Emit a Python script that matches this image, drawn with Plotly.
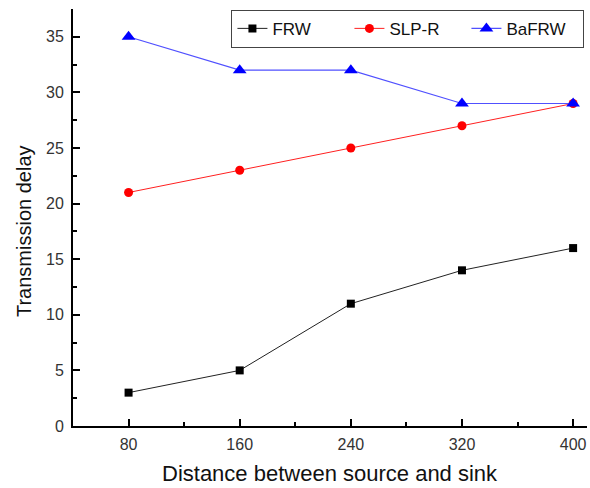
import plotly.graph_objects as go

distance = [80, 160, 240, 320, 400]
frw = [3, 5, 11, 14, 16]
slp_r = [21, 23, 25, 27, 29]
bafrw = [35, 32, 32, 29, 29]

x_title = "Distance between source and sink"
y_title = "Transmission delay"

fig = go.Figure()
fig.add_trace(go.Scatter(x=distance, y=frw, name="FRW", mode="lines+markers",
                         line=dict(color="#222", width=1),
                         marker=dict(symbol="square", size=8, color="black")))
fig.add_trace(go.Scatter(x=distance, y=slp_r, name="SLP-R", mode="lines+markers",
                         line=dict(color="#ff2020", width=1),
                         marker=dict(symbol="circle", size=9, color="red")))
fig.add_trace(go.Scatter(x=distance, y=bafrw, name="BaFRW", mode="lines+markers",
                         line=dict(color="#5050ff", width=1.2),
                         marker=dict(symbol="triangle-up", size=12, color="blue")))

axis_font = dict(family="Liberation Sans, Arial, sans-serif", size=16, color="#333")
fig.update_layout(
    width=590, height=488,
    margin=dict(l=73, r=3, t=9, b=62),
    paper_bgcolor="white", plot_bgcolor="white",
    font=dict(family="Liberation Sans, Arial, sans-serif", color="black"),
    showlegend=True,
    legend=dict(orientation="h", x=0.995, xanchor="right", y=0.998, yanchor="top",
                bordercolor="#444", borderwidth=1, bgcolor="white",
                font=dict(size=17, color="#111"),
                entrywidth=72, entrywidthmode="pixels",
                tracegroupgap=0),
    xaxis=dict(range=[40, 410], tickvals=distance, ticktext=[str(d) for d in distance],
               ticks="inside", ticklen=7, tickwidth=1.5, tickcolor="black",
               minor=dict(tickvals=[120, 200, 280, 360], ticks="inside", ticklen=4, tickcolor="black", tickwidth=1.5),
               showline=True, linecolor="black", linewidth=2, showgrid=False, zeroline=False,
               tickfont=axis_font, ticklabelstandoff=3),
    yaxis=dict(range=[0, 37.5], tickvals=[0, 5, 10, 15, 20, 25, 30, 35],
               ticks="inside", ticklen=7, tickwidth=1.5, tickcolor="black",
               minor=dict(tickvals=[2.5, 7.5, 12.5, 17.5, 22.5, 27.5, 32.5, 37.5], ticks="inside", ticklen=4, tickcolor="black", tickwidth=1.5),
               showline=True, linecolor="black", linewidth=2, showgrid=False, zeroline=False,
               tickfont=axis_font, ticklabelstandoff=4),
    annotations=[
        dict(text=x_title, xref="paper", yref="paper", x=0.5, y=-0.113,
             xanchor="center", yanchor="middle", showarrow=False,
             font=dict(size=22, color="#111")),
        dict(text=y_title, xref="paper", yref="paper", x=-0.095, y=0.468,
             xanchor="center", yanchor="middle", showarrow=False, textangle=-90,
             font=dict(size=20, color="#111")),
    ],
)
fig.write_html("out.html")
